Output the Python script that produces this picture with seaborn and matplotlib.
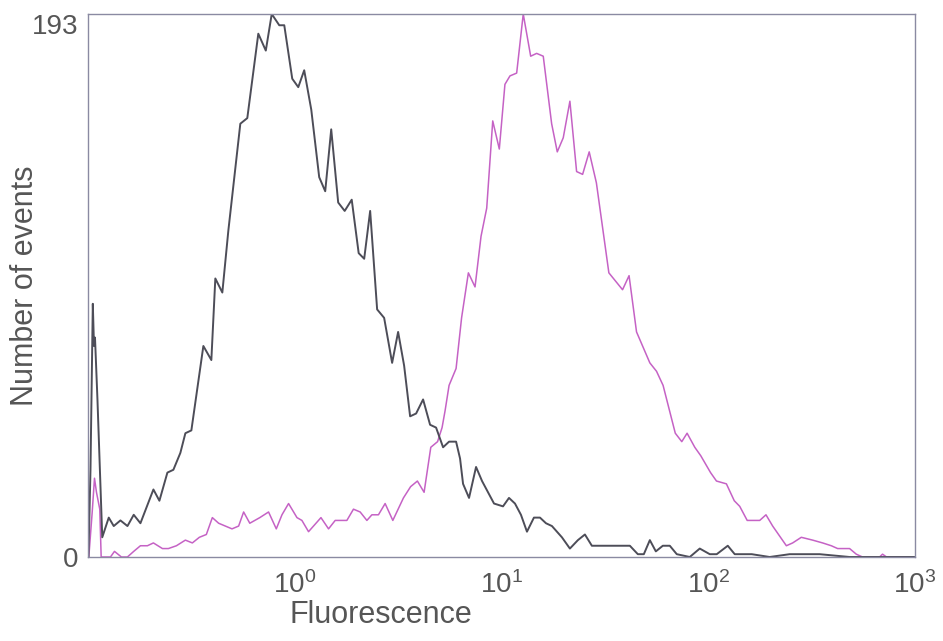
import matplotlib
matplotlib.use("Agg")
import matplotlib.pyplot as plt
import numpy as np
import pandas as pd
import seaborn as sns
from matplotlib.ticker import FixedLocator, FixedFormatter, NullFormatter

# Unstained control: fluorescence (log-scale channel value) and event counts
control_fluor = [
    0.1005, 0.1028, 0.1055, 0.1069, 0.1081, 0.1111, 0.1172, 0.1260, 0.1332, 0.1435,
    0.1552, 0.1664, 0.1793, 0.2072, 0.2215, 0.2421, 0.2588, 0.2797, 0.2958, 0.3162,
    0.3614, 0.3950, 0.4129, 0.4464, 0.4773, 0.5454, 0.5895, 0.6664, 0.7244, 0.7740,
    0.8416, 0.8898, 0.9725, 1.040, 1.111, 1.202, 1.313, 1.404, 1.501, 1.622,
    1.744, 1.886, 2.038, 2.167, 2.316, 2.503, 2.706, 2.958, 3.162, 3.381,
    3.614, 3.864, 4.176, 4.514, 4.826, 5.217, 5.577, 6.030, 6.303, 6.517,
    6.966, 7.532, 8.052, 8.607, 9.201, 10.17, 10.87, 11.62, 12.42, 13.28,
    14.35, 15.35, 16.41, 17.54, 18.54, 19.60, 21.42, 23.42, 25.32, 27.36,
    29.25, 32.70, 35.75, 41.77, 45.65, 48.80, 52.18, 55.78, 60.29, 65.16,
    70.43, 81.4, 90.97, 101.7, 109.9, 124.3, 134.3, 162.3, 198.2, 247.6,
    345.6, 482.6, 673.8, 994.5,
]
control_counts = [
    0, 31, 90, 75, 78, 56, 7, 14, 11, 13,
    11, 15, 12, 24, 20, 30, 31, 37, 44, 45,
    75, 70, 99, 94, 116, 154, 156, 186, 180, 193,
    189, 189, 170, 167, 173, 159, 135, 130, 152, 126,
    123, 127, 108, 106, 123, 88, 85, 69, 80, 68,
    50, 51, 56, 47, 46, 39, 41, 41, 35, 26,
    21, 32, 27, 23, 19, 18, 21, 19, 15, 9,
    14, 14, 12, 11, 9, 7, 3, 6, 8, 4,
    4, 4, 4, 4, 1, 1, 6, 2, 4, 4,
    1, 0, 3, 1, 1, 4, 1, 1, 0, 1,
    1, 0, 0, 0,
]

# Stained sample
stained_fluor = [
    0.1009, 0.1048, 0.1075, 0.1099, 0.1140, 0.1158, 0.1284, 0.1343, 0.1451, 0.1551,
    0.1664, 0.1793, 0.1938, 0.2072, 0.2291, 0.2448, 0.2677, 0.2958, 0.3197, 0.3456,
    0.3736, 0.3994, 0.4284, 0.4972, 0.5353, 0.5659, 0.6061, 0.6776, 0.7470, 0.8141,
    0.8673, 0.9334, 1.025, 1.083, 1.166, 1.339, 1.457, 1.569, 1.787, 1.923,
    2.072, 2.233, 2.361, 2.540, 2.736, 2.981, 3.355, 3.634, 3.919, 4.223,
    4.550, 4.907, 5.159, 5.335, 5.577, 6.030, 6.411, 6.915, 7.447, 7.962,
    8.482, 9.070, 9.759, 10.39, 10.99, 11.84, 12.74, 13.84, 14.79, 15.92,
    17.48, 18.61, 19.89, 21.42, 23.08, 24.68, 26.56, 28.77, 33.06, 38.50,
    41.40, 44.99, 52.18, 56.22, 60.47, 69.27, 74.47, 79.0, 86.07, 91.99,
    102.6, 109.6, 122.4, 133.6, 142.0, 154.3, 177.4, 190.2, 204.9, 238.7,
    256.0, 281.9, 319.8, 357.4, 393.8, 422.5, 482.6, 520.0, 557.6, 673.8,
    696.6, 728.3, 940.6,
]
stained_counts = [
    0, 16, 28, 23, 17, 0, 0, 2, 0, 0,
    2, 4, 4, 5, 3, 3, 4, 6, 5, 7,
    8, 14, 12, 10, 11, 16, 12, 14, 16, 10,
    15, 19, 14, 13, 9, 14, 10, 13, 13, 17,
    16, 13, 15, 15, 19, 13, 21, 25, 27, 23,
    39, 41, 46, 52, 61, 67, 85, 101, 96, 114,
    124, 155, 145, 168, 171, 172, 193, 178, 179, 178,
    154, 144, 149, 162, 137, 136, 144, 133, 101, 95,
    100, 80, 69, 66, 61, 44, 41, 44, 39, 36,
    30, 27, 26, 20, 18, 13, 13, 15, 11, 4,
    5, 7, 6, 5, 4, 3, 3, 1, 0, 0,
    1, 0, 0,
]

y_max = 193
x_ticks = [1, 10, 100, 1000]
x_tick_labels = [r"$\mathregular{10^{0}}$", r"$\mathregular{10^{1}}$",
                 r"$\mathregular{10^{2}}$", r"$\mathregular{10^{3}}$"]

sns.set_style("white")
plt.rcParams["font.family"] = ["Liberation Sans", "DejaVu Sans"]
plt.rcParams["mathtext.fontset"] = "custom"
plt.rcParams["mathtext.rm"] = "Liberation Sans"
plt.rcParams["mathtext.it"] = "Liberation Sans:italic"
plt.rcParams["mathtext.bf"] = "Liberation Sans:bold"

df = pd.concat([
    pd.DataFrame({"Fluorescence": control_fluor, "Events": control_counts, "Sample": "Control"}),
    pd.DataFrame({"Fluorescence": stained_fluor, "Events": stained_counts, "Sample": "Stained"}),
], ignore_index=True)

text_color = "#565656"
frame_color = "#8a8aa2"

fig = plt.figure(figsize=(9.43, 6.41), dpi=100)
ax = fig.add_axes([88 / 943, 1 - 557 / 641, (915 - 88) / 943, (557 - 14) / 641])
ax.set_xscale("log")

sns.lineplot(data=df[df["Sample"] == "Stained"], x="Fluorescence", y="Events",
             color="#c562c5", linewidth=1.1, ax=ax, estimator=None)
sns.lineplot(data=df[df["Sample"] == "Control"], x="Fluorescence", y="Events",
             color="#4d4d58", linewidth=1.4, ax=ax, estimator=None)

ax.set_xlim(0.1, 1000)
ax.set_ylim(0, y_max)

ax.xaxis.set_major_locator(FixedLocator([0.1] + x_ticks))
ax.xaxis.set_major_formatter(FixedFormatter([""] + x_tick_labels))
ax.xaxis.set_minor_locator(FixedLocator([10 ** -0.5, 10 ** 0.5, 10 ** 1.5, 10 ** 2.5]))
ax.xaxis.set_minor_formatter(NullFormatter())

y_tick_vals = [y_max * k / 8 for k in range(9)]
ax.yaxis.set_major_locator(FixedLocator(y_tick_vals))
ax.yaxis.set_major_formatter(FixedFormatter(["0"] + [""] * 7 + [str(y_max)]))

ax.tick_params(axis="both", which="both", direction="out", length=4, width=0.8,
               color=frame_color, labelcolor=text_color, labelsize=20,
               top=False, right=False)
ax.tick_params(axis="x", which="major", pad=6)
ax.tick_params(axis="y", which="major", pad=3)
for lbl in ax.get_yticklabels():
    if lbl.get_text() == str(y_max):
        lbl.set_verticalalignment("top")

for side in ["left", "right", "top", "bottom"]:
    ax.spines[side].set_visible(True)
    ax.spines[side].set_color(frame_color)
    ax.spines[side].set_linewidth(1.0)

ax.set_xlabel("Fluorescence", fontsize=22, color=text_color)
ax.set_ylabel("Number of events", fontsize=22, color=text_color)
ax.xaxis.set_label_coords((381 - 88) / 827, -(600 - 557) / 543, transform=ax.transAxes)
ax.xaxis.label.set_verticalalignment("top")
ax.yaxis.set_label_coords(-(88 - 40) / 827, 0.5, transform=ax.transAxes)
if ax.get_legend() is not None:
    ax.get_legend().remove()

fig.savefig("out.png", dpi=100, facecolor="white")
